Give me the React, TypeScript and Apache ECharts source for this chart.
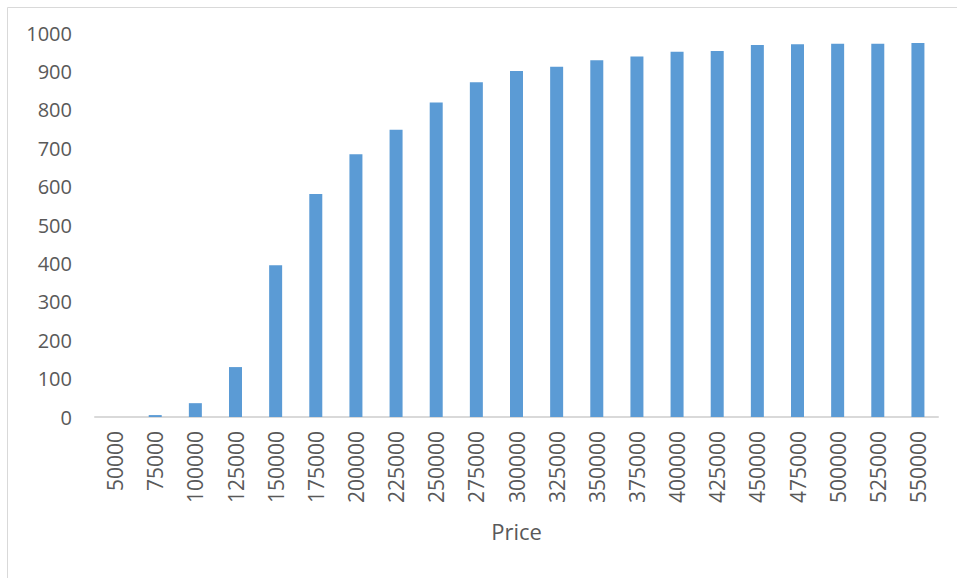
import React, { useEffect, useRef } from "react";
import * as echarts from "echarts";

// Price buckets on the category axis
const prices: string[] = [
  "50000", "75000", "100000", "125000", "150000", "175000", "200000",
  "225000", "250000", "275000", "300000", "325000", "350000", "375000",
  "400000", "425000", "450000", "475000", "500000", "525000", "550000",
];

// Cumulative count for each price bucket
const counts: number[] = [
  0, 5, 36, 130, 395, 581, 684, 748, 819, 872, 901, 912, 929, 939,
  951, 953, 969, 971, 972, 972, 974,
];

const yTicks = { min: 0, max: 1000, interval: 100 };

const FONT = "'Open Sans', 'Noto Sans', sans-serif";
const TEXT = "#595959";

export default function App() {
  const ref = useRef<HTMLDivElement>(null);

  useEffect(() => {
    if (!ref.current) return;
    const chart = echarts.init(ref.current, undefined, { renderer: "svg" });
    chart.setOption({
      animation: false,
      backgroundColor: "#ffffff",
      textStyle: { fontFamily: FONT },
      grid: { left: 95, right: 19, top: 33, bottom: 161, containLabel: false },
      xAxis: {
        type: "category",
        data: prices,
        name: "Price",
        nameLocation: "middle",
        nameGap: 103,
        nameTextStyle: { fontSize: 22, color: TEXT, fontFamily: FONT },
        axisLine: { show: true, lineStyle: { color: "#d9d9d9", width: 2 } },
        axisTick: { show: false },
        axisLabel: {
          rotate: 90,
          margin: 14,
          fontSize: 21,
          color: TEXT,
          fontFamily: FONT,
          interval: 0,
        },
        splitLine: { show: false },
      },
      yAxis: {
        type: "value",
        min: yTicks.min,
        max: yTicks.max,
        interval: yTicks.interval,
        axisLine: { show: false },
        axisTick: { show: false },
        splitLine: { show: false },
        axisLabel: {
          margin: 23,
          fontSize: 20,
          color: TEXT,
          fontFamily: FONT,
          formatter: (v: number) => String(v),
        },
      },
      series: [
        {
          type: "bar",
          data: counts,
          barWidth: 13,
          itemStyle: { color: "#5b9bd5" },
        },
      ],
      graphic: [
        {
          type: "line",
          shape: { x1: 7.5, y1: 7.5, x2: 957, y2: 7.5 },
          style: { stroke: "#d9d9d9", lineWidth: 1 },
          silent: true,
        },
        {
          type: "line",
          shape: { x1: 7.5, y1: 7.5, x2: 7.5, y2: 578 },
          style: { stroke: "#d9d9d9", lineWidth: 1 },
          silent: true,
        },
      ],
    });
    return () => chart.dispose();
  }, []);

  return (
    <div
      ref={ref}
      style={{ position: "fixed", left: 0, top: 0, width: 957, height: 578 }}
    />
  );
}
